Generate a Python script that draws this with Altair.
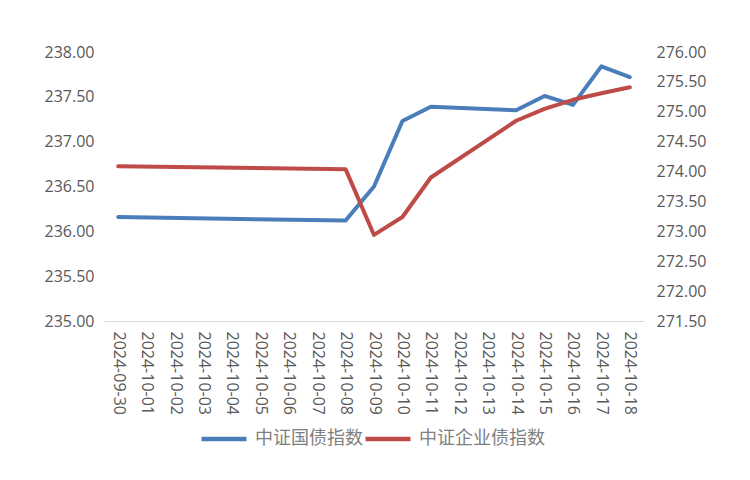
import altair as alt
import pandas as pd

all_dates = ["2024-09-30", "2024-10-01", "2024-10-02", "2024-10-03", "2024-10-04",
             "2024-10-05", "2024-10-06", "2024-10-07", "2024-10-08", "2024-10-09",
             "2024-10-10", "2024-10-11", "2024-10-12", "2024-10-13", "2024-10-14",
             "2024-10-15", "2024-10-16", "2024-10-17", "2024-10-18"]
trade_dates = ["2024-09-30", "2024-10-08", "2024-10-09", "2024-10-10", "2024-10-11",
               "2024-10-14", "2024-10-15", "2024-10-16", "2024-10-17", "2024-10-18"]
gov_index = [236.16, 236.12, 236.50, 237.23, 237.39, 237.35, 237.51, 237.41, 237.84, 237.72]
corp_index = [274.09, 274.04, 272.94, 273.24, 273.90, 274.85, 275.05, 275.20, 275.31, 275.41]
left_ticks = [235.0, 235.5, 236.0, 236.5, 237.0, 237.5, 238.0]
right_ticks = [271.5, 272.0, 272.5, 273.0, 273.5, 274.0, 274.5, 275.0, 275.5, 276.0]
series_names = ["中证国债指数", "中证企业债指数"]
series_colors = ["#4A7EBB", "#BE4B48"]

gov_df = pd.DataFrame({"date": trade_dates, "gov": gov_index,
                       "series": [series_names[0]] * len(trade_dates)})
corp_df = pd.DataFrame({"date": trade_dates, "corp": corp_index,
                        "series": [series_names[1]] * len(trade_dates)})

LABEL_FONT = "Open Sans"
LABEL_COLOR = "#595959"

x_enc = alt.X("date:O",
              scale=alt.Scale(domain=all_dates),
              axis=alt.Axis(title=None, labelAngle=90, ticks=False, labelPadding=10,
                            domainColor="#D9D9D9", domainWidth=1.2,
                            labelFont=LABEL_FONT, labelFontSize=16, labelColor=LABEL_COLOR))

color_scale = alt.Scale(domain=series_names, range=series_colors)
legend = alt.Legend(orient="none", legendX=95, legendY=362, direction="horizontal",
                    symbolType="stroke", symbolSize=2025, symbolStrokeWidth=4.5,
                    labelFontSize=18, labelFont="Noto Sans CJK SC", labelColor="#7F7F7F",
                    title=None, columnPadding=-40, labelOffset=6)

color_enc = alt.Color("series:N", scale=color_scale, legend=legend)

gov_line = alt.Chart(gov_df).mark_line(strokeWidth=4, strokeCap="round", strokeJoin="round").encode(
    x=x_enc,
    y=alt.Y("gov:Q",
            scale=alt.Scale(domain=[235, 238], nice=False, zero=False),
            axis=alt.Axis(orient="left", title=None, values=left_ticks, format=".2f",
                          grid=False, domain=False, ticks=False, labelPadding=10,
                          labelFont=LABEL_FONT, labelFontSize=16, labelColor=LABEL_COLOR)),
    color=color_enc,
)

corp_line = alt.Chart(corp_df).mark_line(strokeWidth=4, strokeCap="round", strokeJoin="round").encode(
    x=x_enc,
    y=alt.Y("corp:Q",
            scale=alt.Scale(domain=[271.5, 276], nice=False, zero=False),
            axis=alt.Axis(orient="right", title=None, values=right_ticks, format=".2f",
                          grid=False, domain=False, ticks=False, labelPadding=12,
                          labelFont=LABEL_FONT, labelFontSize=16, labelColor=LABEL_COLOR)),
    color=color_enc,
)

chart = alt.layer(gov_line, corp_line).resolve_scale(y="independent").properties(
    width=540, height=269,
    autosize=alt.AutoSizeParams(type="none"),
    padding={"left": 96, "top": 44, "right": 98, "bottom": 151},
).configure_view(stroke=None)

chart.save("out.html", embed_options={"renderer": "svg", "actions": False})
